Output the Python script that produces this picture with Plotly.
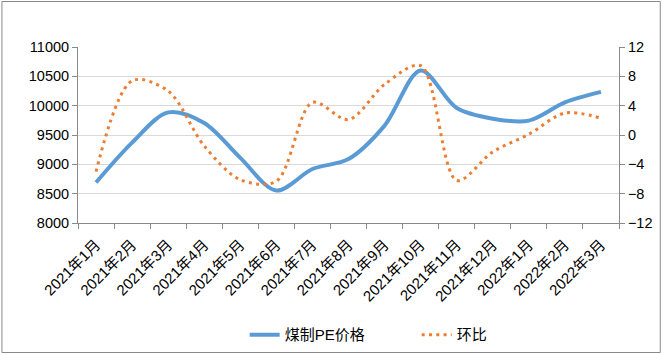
import plotly.graph_objects as go

months = ["2021年1月", "2021年2月", "2021年3月", "2021年4月", "2021年5月", "2021年6月",
          "2021年7月", "2021年8月", "2021年9月", "2021年10月", "2021年11月", "2021年12月",
          "2022年1月", "2022年2月", "2022年3月"]
price = [8690, 9370, 9885, 9705, 9110, 8553, 8920, 9090, 9660, 10600, 9960, 9778, 9745, 10056, 10235]
mom = [-5.0, 7.4, 6.0, -1.5, -6.1, -6.3, 4.45, 2.1, 6.9, 9.45, -6.2, -2.3, 0.1, 3.0, 2.3]
left_ticks = [8000, 8500, 9000, 9500, 10000, 10500, 11000]
left_labels = ["8000", "8500", "9000", "9500", "10000", "10500", "11000"]
right_ticks = [-12, -8, -4, 0, 4, 8, 12]

W, H = 665, 354
L, R, T, B = 78, 43, 47, 131
FONT = "Liberation Sans, Noto Sans CJK SC, sans-serif"
AXIS = "#898989"

fig = go.Figure()
fig.add_trace(go.Scatter(x=months, y=price, name="煤制PE价格", mode="lines",
                         line=dict(color="#5B9BD5", width=4, shape="spline", smoothing=0.9),
                         yaxis="y"))
fig.add_trace(go.Scatter(x=months, y=mom, name="环比", mode="lines",
                         line=dict(color="#ED7D31", width=3, dash="3px,4.3px", shape="spline", smoothing=0.9),
                         yaxis="y2"))

def px2paper_x(px):
    return (px - L) / (W - L - R)

def px2paper_y(py):
    return 1 - (py - T) / (H - T - B)

fig.add_shape(type="rect", xref="paper", yref="paper",
              x0=px2paper_x(1.5), x1=px2paper_x(663.5),
              y0=px2paper_y(352.5), y1=px2paper_y(1.5),
              line=dict(color=AXIS, width=1), fillcolor="rgba(0,0,0,0)", layer="below")

fig.update_layout(
    width=W, height=H,
    margin=dict(l=L, r=R, t=T, b=B),
    paper_bgcolor="white", plot_bgcolor="white",
    font=dict(family=FONT, size=14, color="black"),
    showlegend=True,
    legend=dict(orientation="h", x=0.626, xanchor="center", yref="container", y=0.054, yanchor="middle",
                font=dict(size=15, color="black"), itemwidth=30, entrywidth=127),
    xaxis=dict(type="category", range=[-0.5, 14.5], tickangle=-45, tickson="boundaries",
               ticks="outside", ticklen=5, tickcolor=AXIS, showline=True, linecolor=AXIS,
               linewidth=1, showgrid=False, tickfont=dict(size=15), ticklabelstandoff=6),
    yaxis=dict(range=[8000, 11000], tickvals=left_ticks, ticktext=left_labels, ticks="outside",
               ticklen=5, tickcolor=AXIS,
               showline=True, linecolor=AXIS, linewidth=1, showgrid=True, gridcolor="#D9D9D9",
               gridwidth=1, zeroline=False, tickfont=dict(size=14.5)),
    yaxis2=dict(range=[-12, 12], tickvals=right_ticks, overlaying="y", side="right", ticks="outside",
                ticklen=5, tickcolor=AXIS, showline=True, linecolor=AXIS, linewidth=1,
                showgrid=False, zeroline=False, tickfont=dict(size=14.5)),
)

fig.write_html("out.html")
